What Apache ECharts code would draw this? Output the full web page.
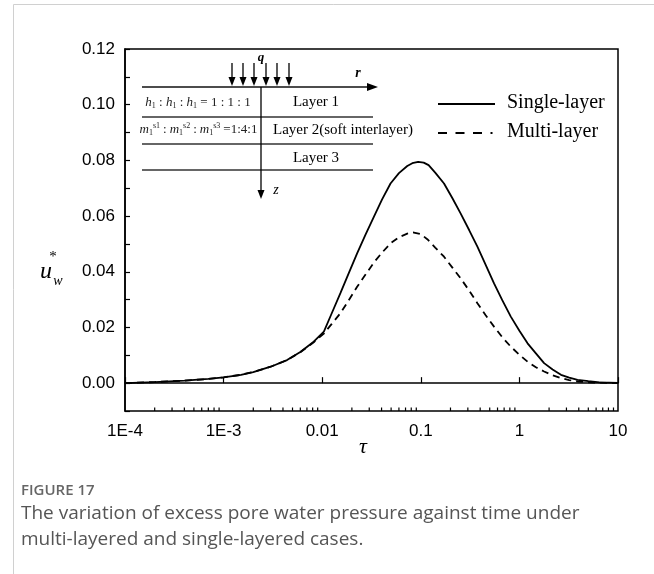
<!DOCTYPE html>
<html>
<head>
<meta charset="utf-8">
<script src="https://cdn.jsdelivr.net/npm/echarts@6/dist/echarts.min.js"></script>
<style>
html,body{margin:0;padding:0;background:#fff;}
#chart{width:654px;height:574px;}
</style>
</head>
<body>
<div id="chart"></div>
<script>
// ---- data ----
const seriesNames = ['Single-layer', 'Multi-layer'];
const tauSingle = [1e-4, 2e-4, 4e-4, 7e-4, 1e-3, 1.5e-3, 2e-3, 3e-3, 4.4e-3, 6e-3, 8.2e-3, 0.0104, 0.0125, 0.0153, 0.0186, 0.0226, 0.0275, 0.0334, 0.0405, 0.0493, 0.06, 0.0729, 0.082, 0.094, 0.107, 0.12, 0.14, 0.172, 0.21, 0.254, 0.31, 0.375, 0.455, 0.553, 0.67, 0.818, 1.0, 1.21, 1.47, 1.78, 2.17, 2.64, 3.2, 3.89, 5, 6.5, 10];
const uSingle   = [0.0000, 0.0004, 0.0009, 0.0015, 0.0021, 0.0030, 0.0040, 0.0059, 0.0083, 0.0112, 0.0149, 0.0185, 0.0251, 0.0323, 0.0395, 0.0466, 0.0533, 0.0597, 0.0660, 0.0717, 0.0754, 0.0780, 0.0790, 0.0795, 0.0792, 0.0783, 0.0756, 0.0717, 0.0663, 0.0609, 0.0549, 0.0490, 0.0425, 0.0358, 0.0298, 0.0239, 0.0188, 0.0143, 0.0107, 0.0072, 0.0049, 0.0030, 0.0020, 0.0012, 0.0007, 0.0003, 0.0001];
const tauMulti  = [1e-4, 2e-4, 4e-4, 7e-4, 1e-3, 1.5e-3, 2e-3, 3e-3, 4.4e-3, 6e-3, 8.2e-3, 0.0104, 0.0125, 0.0153, 0.0186, 0.0226, 0.0275, 0.0334, 0.0405, 0.0493, 0.06, 0.0729, 0.085, 0.1, 0.1164, 0.14, 0.172, 0.21, 0.254, 0.31, 0.375, 0.455, 0.553, 0.67, 0.818, 1.0, 1.21, 1.47, 1.78, 2.17, 2.64, 3.2, 3.89, 5, 10];
const uMulti    = [0.0000, 0.0004, 0.0009, 0.0015, 0.0021, 0.0030, 0.0040, 0.0059, 0.0083, 0.0111, 0.0147, 0.0178, 0.0213, 0.0251, 0.0298, 0.0346, 0.0390, 0.0433, 0.0469, 0.0502, 0.0524, 0.0537, 0.0541, 0.0535, 0.0517, 0.0487, 0.0454, 0.0414, 0.0376, 0.0332, 0.0287, 0.0244, 0.0203, 0.0165, 0.0131, 0.0102, 0.0077, 0.0057, 0.0042, 0.0028, 0.0018, 0.0011, 0.0006, 0.0003, 0.0000];
const xTickValues = [1e-4, 1e-3, 0.01, 0.1, 1, 10];
const xTickLabels = ['1E-4', '1E-3', '0.01', '0.1', '1', '10'];
const minorMultipliers = [2, 3, 4, 5, 6, 7, 8, 9];
const decades = [1e-4, 1e-3, 1e-2, 1e-1, 1];

const minorTicks = [];
decades.forEach(d => minorMultipliers.forEach(m => minorTicks.push([d * m, -0.01])));

function zip(a, b) { return a.map((v, i) => [v, b[i]]); }

const chart = echarts.init(document.getElementById('chart'), null, {renderer: 'canvas'});
const serif = 'Liberation Serif';
const sans = 'Liberation Sans';

function arrowDown(x, yTop, yBot, headH, headW) {
  return [
    {type: 'line', shape: {x1: x, y1: yTop, x2: x, y2: yBot - headH + 1}, style: {stroke: '#000', lineWidth: 1.3}},
    {type: 'polygon', shape: {points: [[x - headW / 2, yBot - headH], [x + headW / 2, yBot - headH], [x, yBot]]}, style: {fill: '#000'}}
  ];
}

const graphics = [];
// page frame
graphics.push({type: 'line', shape: {x1: 13.5, y1: 4.5, x2: 13.5, y2: 574}, style: {stroke: '#d0d0d0', lineWidth: 1}});
graphics.push({type: 'line', shape: {x1: 13.5, y1: 4.5, x2: 654, y2: 4.5}, style: {stroke: '#d0d0d0', lineWidth: 1}});
// inset diagram
graphics.push({type: 'line', shape: {x1: 142, y1: 87, x2: 368, y2: 87}, style: {stroke: '#111', lineWidth: 1.5}});
graphics.push({type: 'polygon', shape: {points: [[367, 83], [367, 91], [378, 87]]}, style: {fill: '#000'}});
[117, 144, 170].forEach(y => graphics.push({type: 'line', shape: {x1: 142, y1: y, x2: 373, y2: y}, style: {stroke: '#333', lineWidth: 1.5}}));
arrowDown(261, 87, 199, 9, 7).forEach(g => graphics.push(g));
[232, 243, 254, 266, 277, 289].forEach(x => arrowDown(x, 63, 86, 9, 7).forEach(g => graphics.push(g)));
graphics.push({type: 'text', x: 261, y: 58, style: {text: 'q', font: 'italic bold 13px ' + serif, fill: '#000', align: 'center', verticalAlign: 'middle'}});
graphics.push({type: 'text', x: 358, y: 73, style: {text: 'r', font: 'italic bold 14px ' + serif, fill: '#000', align: 'center', verticalAlign: 'middle'}});
graphics.push({type: 'text', x: 276, y: 190, style: {text: 'z', font: 'italic 14px ' + serif, fill: '#000', align: 'center', verticalAlign: 'middle'}});
graphics.push({type: 'text', x: 316, y: 102, style: {text: 'Layer 1', font: '15px ' + serif, fill: '#000', align: 'center', verticalAlign: 'middle'}});
graphics.push({type: 'text', x: 343, y: 130, style: {text: 'Layer 2(soft interlayer)', font: '15px ' + serif, fill: '#000', align: 'center', verticalAlign: 'middle'}});
graphics.push({type: 'text', x: 316, y: 158, style: {text: 'Layer 3', font: '15px ' + serif, fill: '#000', align: 'center', verticalAlign: 'middle'}});
graphics.push({type: 'text', x: 198, y: 103, style: {
  text: '{i|h}{s|1} : {i|h}{s|1} : {i|h}{s|1} = 1 : 1 : 1',
  font: '13px ' + serif, fill: '#222', align: 'center', verticalAlign: 'middle',
  rich: {i: {fontStyle: 'italic', fontSize: 13, fontFamily: serif, fill: '#222'}, s: {fontSize: 8, fontFamily: serif, padding: [6, 0, 0, 0]}}
}});
graphics.push({type: 'text', x: 200, y: 130, style: {
  text: '{i|m}{s|1}{p|s1}{n|:}{i|m}{s|1}{p|s2}{n|:}{i|m}{s|1}{p|s3}{n|=1:4:1}',
  font: '13px ' + serif, fill: '#222', align: 'center', verticalAlign: 'middle',
  rich: {i: {fontStyle: 'italic', fontSize: 13, fontFamily: serif}, n: {fontSize: 13, fontFamily: serif, padding: [0, 3, 0, 3]},
         s: {fontSize: 8, fontFamily: serif, padding: [6, 0, 0, 0]}, p: {fontSize: 8, fontFamily: serif, padding: [0, 0, 8, 0]}}
}});
// legend (drawn)
graphics.push({type: 'line', shape: {x1: 438, y1: 104, x2: 495, y2: 104}, style: {stroke: '#000', lineWidth: 1.8}});
graphics.push({type: 'line', shape: {x1: 438, y1: 133, x2: 492.5, y2: 133}, style: {stroke: '#000', lineWidth: 1.8, lineDash: [9, 8.5]}});
graphics.push({type: 'text', x: 507, y: 103, style: {text: seriesNames[0], font: '20px ' + serif, fill: '#000', verticalAlign: 'middle'}});
graphics.push({type: 'text', x: 507, y: 132, style: {text: seriesNames[1], font: '20px ' + serif, fill: '#000', verticalAlign: 'middle'}});
// y axis name u_w^*
graphics.push({type: 'text', x: 46, y: 272, style: {text: 'u', font: 'italic 24px ' + serif, fill: '#000', align: 'center', verticalAlign: 'middle'}});
graphics.push({type: 'text', x: 53, y: 257, style: {text: '*', font: '15px ' + serif, fill: '#000', align: 'center', verticalAlign: 'middle'}});
graphics.push({type: 'text', x: 58, y: 281, style: {text: 'w', font: 'italic 14px ' + serif, fill: '#000', align: 'center', verticalAlign: 'middle'}});
// x axis name
graphics.push({type: 'text', x: 363, y: 447, style: {text: 'τ', font: 'italic 22px ' + serif, fill: '#000', align: 'center', verticalAlign: 'middle'}});
// caption
graphics.push({type: 'text', x: 21, y: 491, style: {text: 'FIGURE 17', font: '600 15px "Open Sans"', fill: '#666', verticalAlign: 'middle'}});
graphics.push({type: 'text', x: 21, y: 514, style: {text: 'The variation of excess pore water pressure against time under', font: '19px "Open Sans"', fill: '#555', verticalAlign: 'middle'}});
graphics.push({type: 'text', x: 21, y: 540, style: {text: 'multi-layered and single-layered cases.', font: '19px "Open Sans"', fill: '#555', verticalAlign: 'middle'}});

const option = {
  backgroundColor: '#fff',
  animation: false,
  grid: {left: 125, right: 36, top: 49, bottom: 163, show: true, borderColor: '#000', borderWidth: 1.5, backgroundColor: 'transparent'},
  xAxis: {
    type: 'log', logBase: 10, min: 1e-4, max: 10,
    axisLine: {show: true, lineStyle: {color: '#000', width: 1.5}},
    axisTick: {show: true, inside: true, length: 6, lineStyle: {color: '#000', width: 1.2}},
    minorTick: {show: false},
    splitLine: {show: false},
    axisLabel: {
      color: '#000', fontFamily: sans, fontSize: 17, margin: 12,
      formatter: v => { const i = xTickValues.findIndex(t => Math.abs(Math.log10(t) - Math.log10(v)) < 1e-6); return i >= 0 ? xTickLabels[i] : ''; }
    }
  },
  yAxis: {
    type: 'value', min: -0.01, max: 0.12, interval: 0.01,
    axisLine: {show: true, lineStyle: {color: '#000', width: 1.5}},
    axisTick: {show: true, inside: true, length: 5, lineStyle: {color: '#000', width: 1.2}},
    splitLine: {show: false},
    axisLabel: {
      color: '#000', fontFamily: sans, fontSize: 17, margin: 10,
      formatter: v => { const k = Math.round(v * 100); return (k >= 0 && k % 2 === 0) ? (k / 100).toFixed(2) : ''; }
    }
  },
  series: [
    {name: seriesNames[0], type: 'line', data: zip(tauSingle, uSingle), symbol: 'none', smooth: false,
     lineStyle: {color: '#000', width: 1.8, type: 'solid'}, itemStyle: {color: '#000'}},
    {name: seriesNames[1], type: 'line', data: zip(tauMulti, uMulti), symbol: 'none', smooth: false,
     lineStyle: {color: '#000', width: 1.8, type: [7, 5]}, itemStyle: {color: '#000'}},
    {type: 'custom', data: minorTicks, silent: true, clip: false,
     renderItem: (params, api) => {
       const p = api.coord([api.value(0), api.value(1)]);
       return {type: 'line', shape: {x1: p[0], y1: p[1], x2: p[0], y2: p[1] - 3.5}, style: {stroke: '#000', lineWidth: 1.2}};
     }}
  ],
  graphic: graphics
};
chart.setOption(option);
</script>
</body>
</html>
